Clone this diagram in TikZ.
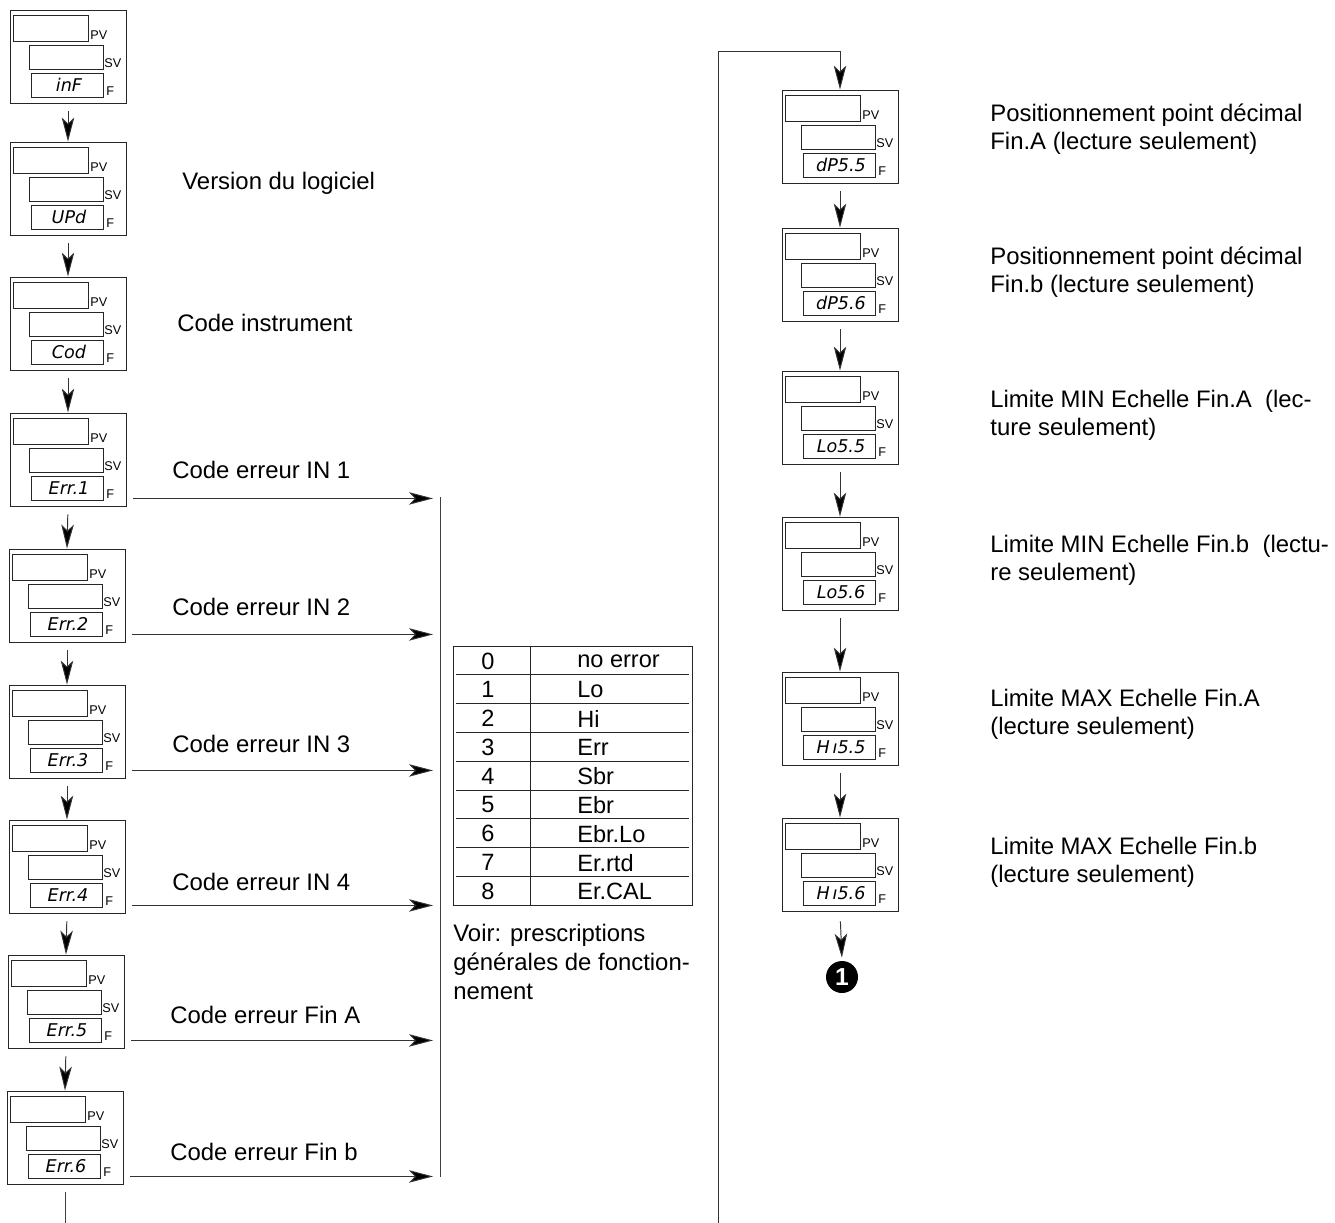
\documentclass[tikz,border=0pt]{standalone}
\usepackage{fontspec}
\setmainfont{Liberation Sans}
\newfontfamily\lcdfont{DejaVu Sans}
\usetikzlibrary{arrows.meta, calc}

\tikzset{
  panel/.style={draw=black!85, line width=0.5pt, minimum width=2.32cm, minimum height=1.86cm, inner sep=0pt},
  seg/.style={draw=black!85, line width=0.45pt},
  tag/.style={font=\fontsize{7.2}{8}\selectfont, anchor=west, inner sep=0pt},
  code/.style={font=\lcdfont\itshape\fontsize{10}{10}\selectfont, inner sep=0pt},
  arr/.style={draw=black!80, line width=0.55pt, -{Stealth[length=0.48cm, width=0.25cm, inset=0.12cm, fill=black]}},
  line/.style={draw=black!75, line width=0.55pt},
  note/.style={font=\fontsize{13.6}{15.9}\selectfont, anchor=west, align=left, inner sep=0pt},
  cell/.style={font=\fontsize{13.4}{15.9}\selectfont, inner sep=0pt},
}

% display panel: name, left x, top y, code shown in F
\newcommand{\dispbox}[4]{%
  \node[panel] (#1) at (#2+58,#3+46.5) {};
  \draw[seg] (#2+3,#3+5) rectangle (#2+78,#3+31);
  \draw[seg] (#2+19,#3+35) rectangle (#2+93,#3+59);
  \draw[seg] (#2+21,#3+63) rectangle (#2+93,#3+87);
  \node[tag] (#1-pv) at (#2+80,#3+25) {PV};
  \node[tag] (#1-sv) at (#2+94,#3+53) {SV};
  \node[tag] (#1-f) at (#2+96,#3+81) {F};
  \node[code] (#1-code) at (#2+59,#3+75) {#4};
}

\begin{document}
\begin{tikzpicture}[x=0.02cm, y=-0.02cm]
  \useasboundingbox (0,0) rectangle (1335,1223);

  % left column
  \dispbox{inf}{10}{10}{inF}
  \dispbox{upd}{10}{142}{UPd}
  \dispbox{cod}{10}{277}{Cod}
  \dispbox{err1}{10}{413}{Err.1}
  \dispbox{err2}{9}{549}{Err.2}
  \dispbox{err3}{9}{685}{Err.3}
  \dispbox{err4}{9}{820}{Err.4}
  \dispbox{err5}{8}{955}{Err.5}
  \dispbox{err6}{7}{1091}{Err.6}

  \node[note] (lbl-upd) at (182,183) {Version du logiciel};
  \node[note] (lbl-cod) at (177,323) {Code instrument};
  \node[note] (lbl-err1) at (172,470) {Code erreur IN 1};
  \node[note] (lbl-err2) at (172,607) {Code erreur IN 2};
  \node[note] (lbl-err3) at (172,744) {Code erreur IN 3};
  \node[note] (lbl-err4) at (172,882) {Code erreur IN 4};
  \node[note] (lbl-err5) at (170,1015) {Code erreur Fin A};
  \node[note] (lbl-err6) at (170,1152) {Code erreur Fin b};

  \foreach \a/\b in {inf/upd, upd/cod, cod/err1, err1/err2, err2/err3, err3/err4, err4/err5, err5/err6}
    \draw[arr, shorten <=0.16cm] (\a.south) -- (\b.north);
  \coordinate (pagebot) at (0,1223);
  \draw[line, shorten <=0.16cm] (err6.south) -- (err6.south |- pagebot);

  % arrows to the error table
  \coordinate (bartop) at (440,497);
  \coordinate (barbot) at (440,1177);
  \draw[line] (bartop) -- (barbot);
  \foreach \i in {1,...,6} {
    \coordinate (e\i) at ([shift={(0.14cm,0.16cm)}]err\i.south east);
    \draw[arr, shorten >=0.14cm] (e\i) -- (e\i -| bartop);
  }

  % error table
  \draw[line, draw=black!85] (453,646) rectangle (692,905);
  \draw[line, draw=black!85] (530,646) -- (530,905);
  \foreach \i in {1,...,8}
    \draw[line, draw=black!85] (456,646+28.8*\i) -- (689,646+28.8*\i);
  \foreach \v/\t [count=\i from 0] in {0/no error, 1/Lo, 2/Hi, 3/Err, 4/Sbr, 5/Ebr, 6/Ebr.Lo, 7/Er.rtd, 8/Er.CAL} {
    \node[cell] (num\v) at (488,661+28.8*\i) {\v};
    \node[cell, anchor=west] (txt\v) at (577,661+28.8*\i) {\t};
  }
  \node[note, font=\fontsize{13.6}{16.7}\selectfont] (voir) at (453,962) {Voir: prescriptions\\générales de fonction-\\nement};

  % right column
  \dispbox{dps5}{782}{90}{dP5.5}
  \dispbox{dps6}{782}{228}{dP5.6}
  \dispbox{los5}{782}{371}{Lo5.5}
  \dispbox{los6}{782}{517}{Lo5.6}
  \dispbox{his5}{782}{672}{H\,ı5.5}
  \dispbox{his6}{782}{818}{H\,ı5.6}

  \node[note] (lbl-dps5) at (990,129) {Positionnement point décimal\\Fin.A (lecture seulement)};
  \node[note] (lbl-dps6) at (990,272) {Positionnement point décimal\\Fin.b (lecture seulement)};
  \node[note] (lbl-los5) at (990,415) {Limite MIN Echelle Fin.A\ \ (lec-\\ture seulement)};
  \node[note] (lbl-los6) at (990,560) {Limite MIN Echelle Fin.b\ \ (lectu-\\re seulement)};
  \node[note] (lbl-his5) at (990,714) {Limite MAX Echelle Fin.A\\(lecture seulement)};
  \node[note] (lbl-his6) at (990,862) {Limite MAX Echelle Fin.b\\(lecture seulement)};

  \node[circle, fill=black, text=white, font=\bfseries\fontsize{14}{14}\selectfont, minimum size=0.64cm, inner sep=0pt] (endmark) at (842,977) {1};

  \coordinate (loopbot) at (718,1223);
  \draw[arr] (loopbot) |- ([yshift=0.76cm]dps5.north) -- (dps5.north);
  \foreach \a/\b in {dps5/dps6, dps6/los5, los5/los6, los6/his5, his5/his6}
    \draw[arr, shorten <=0.16cm] (\a.south) -- (\b.north);
  \draw[arr, shorten <=0.2cm, shorten >=0.06cm] (his6.south) -- (endmark.north);
\end{tikzpicture}
\end{document}
